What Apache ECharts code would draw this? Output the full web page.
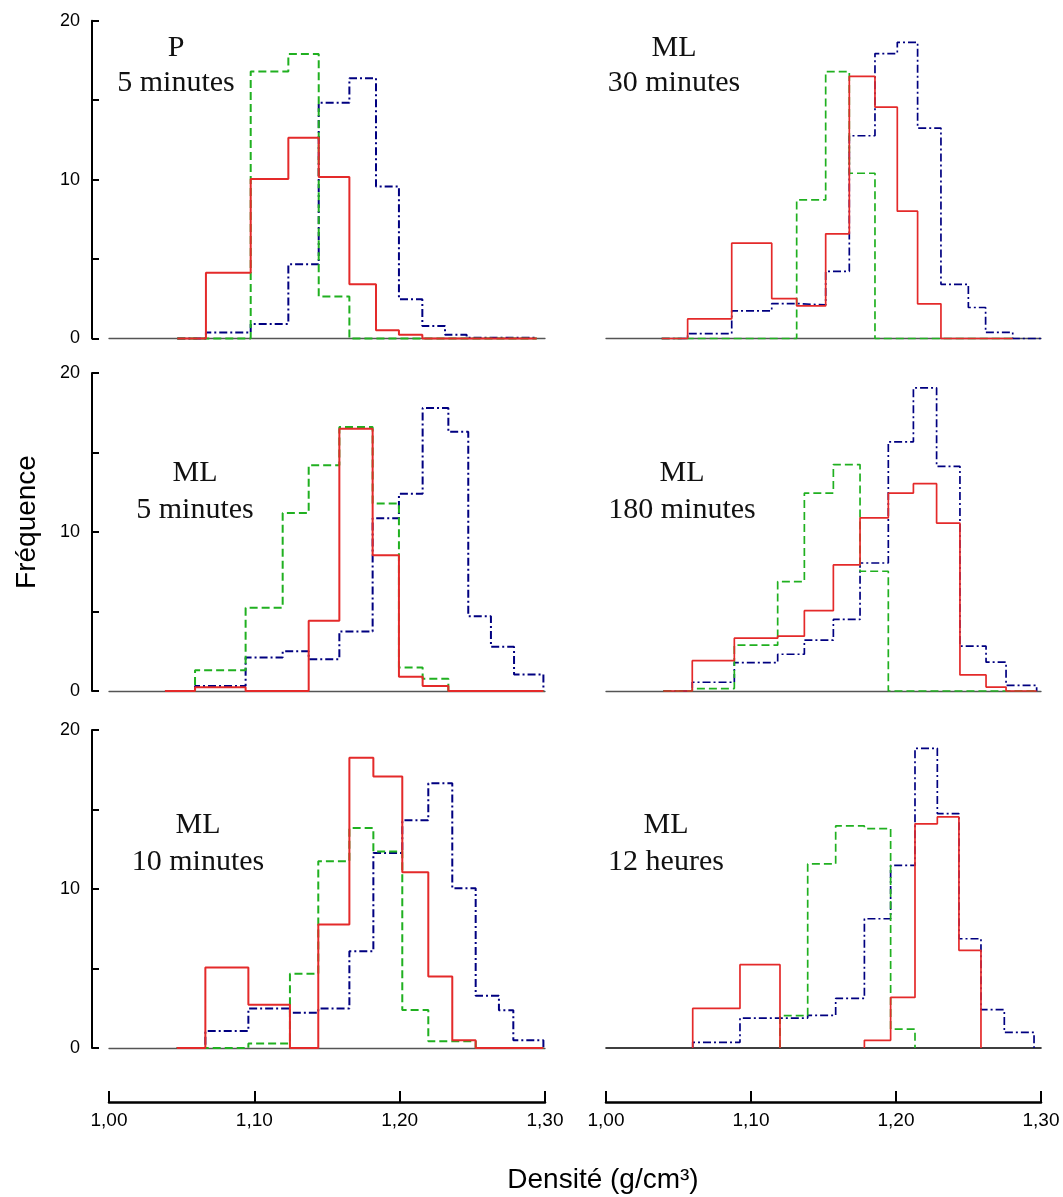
<!DOCTYPE html>
<html>
<head>
<meta charset="utf-8">
<script src="https://cdn.jsdelivr.net/npm/echarts@6/dist/echarts.min.js"></script>
<style>
html,body{margin:0;padding:0;background:#fff;}
#chart{width:1063px;height:1197px;}
</style>
</head>
<body>
<div id="chart"></div>
<script>
// ---- Data (density bin edges, frequencies) ----
// Panel: P 5 minutes
const edgesP5 = [1.047, 1.0667, 1.0975, 1.1234, 1.1443, 1.1654, 1.1837, 1.1995, 1.2156, 1.2312, 1.2461, 1.2943];
const redP5   = [0, 4.14, 10.04, 12.64, 10.17, 3.41, 0.52, 0.23, 0, 0, 0];
const greenP5 = [0, 0, 16.8, 17.9, 2.64, 0, 0, 0, 0, 0, 0];
const blueP5  = [0, 0.38, 0.92, 4.67, 14.83, 16.38, 9.56, 2.47, 0.79, 0.23, 0.05];

// Panel: ML 30 minutes
const edgesML30 = [1.0384, 1.0563, 1.0867, 1.1143, 1.1315, 1.1515, 1.1678, 1.1855, 1.2009, 1.2149, 1.2310, 1.2499, 1.2618, 1.2805, 1.3062];
const redML30   = [0, 1.23, 6.0, 2.51, 2.05, 6.59, 16.5, 14.56, 8.01, 2.18, 0, 0, 0, null];
const greenML30 = [0, 0, 0, 0, 8.72, 16.8, 10.4, 0, 0, 0, 0, 0, 0, null];
const blueML30  = [0, 0.31, 1.74, 2.2, 2.11, 4.23, 12.76, 17.93, 18.64, 13.24, 3.41, 1.95, 0.38, 0];

// Panel: ML 5 minutes
const edgesML5 = [1.0385, 1.0592, 1.094, 1.1195, 1.1374, 1.1585, 1.1814, 1.1995, 1.2158, 1.2335, 1.2472, 1.2628, 1.2787, 1.2989];
const redML5   = [0, 0.23, 0, 0, 4.42, 16.5, 8.53, 0.90, 0.31, 0, 0, 0, 0];
const greenML5 = [0, 1.31, 5.24, 11.2, 14.2, 16.6, 11.8, 1.48, 0.77, 0, 0, 0, 0];
const blueML5  = [0, 0.31, 2.1, 2.5, 2.0, 3.75, 10.87, 12.4, 17.8, 16.3, 4.7, 2.78, 1.04];

// Panel: ML 180 minutes
const edgesML180 = [1.0395, 1.0595, 1.0885, 1.1184, 1.1368, 1.1568, 1.1752, 1.1947, 1.2120, 1.2280, 1.2441, 1.2621, 1.2759, 1.2970];
const redML180   = [0, 1.91, 3.32, 3.45, 5.05, 7.93, 10.89, 12.45, 13.04, 10.56, 1.01, 0.25, 0];
const greenML180 = [0, 0.15, 2.88, 6.88, 12.45, 14.24, 7.53, 0, 0, 0, 0, 0, 0];
const blueML180  = [0, 0.55, 1.79, 2.31, 3.2, 4.5, 8.05, 15.67, 19.07, 14.13, 2.82, 1.81, 0.36];

// Panel: ML 10 minutes
const edgesML10 = [1.0466, 1.0663, 1.0959, 1.1245, 1.1440, 1.1654, 1.1819, 1.2018, 1.2197, 1.2362, 1.2523, 1.2683, 1.2782, 1.2989];
const redML10   = [0, 5.07, 2.72, 0, 7.77, 18.26, 17.07, 11.06, 4.5, 0.48, 0, 0, 0];
const greenML10 = [0, 0, 0.29, 4.67, 11.75, 13.84, 12.36, 2.39, 0.42, 0.42, 0, 0, 0];
const blueML10  = [0, 1.07, 2.49, 2.22, 2.49, 6.09, 12.27, 14.32, 16.65, 10.05, 3.29, 2.37, 0.48];

// Panel: ML 12 heures
const edgesML12h = [1.0598, 1.0924, 1.1200, 1.1391, 1.1584, 1.1782, 1.1963, 1.2131, 1.2285, 1.2434, 1.2586, 1.2747, 1.2952];
const redML12h   = [2.49, 5.24, null, null, null, 0.48, 3.18, 14.1, 14.53, 6.14, null, null];
const greenML12h = [null, null, 2.03, 11.58, 13.97, 13.8, 1.19, null, null, null, null, null];
const blueML12h  = [0.36, 1.88, 1.88, 2.05, 3.12, 8.13, 11.48, 18.85, 14.74, 6.87, 2.41, 0.98];

// Labels
const panelTitles = [["P", "5 minutes"], ["ML", "30 minutes"], ["ML", "5 minutes"], ["ML", "180 minutes"], ["ML", "10 minutes"], ["ML", "12 heures"]];
const yTickLabels = [0, 10, 20];
const xTitle = "Densité (g/cm³)";
const yTitle = "Fréquence";

// ---- Build ----
const panels = [
  {edges: edgesP5, red: redP5, green: greenP5, blue: blueP5},
  {edges: edgesML30, red: redML30, green: greenML30, blue: blueML30},
  {edges: edgesML5, red: redML5, green: greenML5, blue: blueML5},
  {edges: edgesML180, red: redML180, green: greenML180, blue: blueML180},
  {edges: edgesML10, red: redML10, green: greenML10, blue: blueML10},
  {edges: edgesML12h, red: redML12h, green: greenML12h, blue: blueML12h}
];

function steps(edges, vals) {
  const pts = [];
  let open = false;
  for (let i = 0; i < vals.length; i++) {
    const v = vals[i];
    if (v === null) {
      if (open) { pts.push([edges[i], 0]); pts.push([edges[i], '-']); open = false; }
      continue;
    }
    if (!open) { pts.push([edges[i], 0]); open = true; }
    pts.push([edges[i], v]);
    pts.push([edges[i + 1], v]);
  }
  if (open) pts.push([edges[vals.length], 0]);
  return pts;
}

const colLeft = [109, 606];
const colWidth = [436, 435];
const rowTop = [20.7, 373, 730];
const rowHeight = [317.8, 318, 318];

const grids = [], xAxes = [], yAxes = [], series = [];
const SANS = "'Liberation Sans', Arial, Helvetica, sans-serif";
const SERIF = "'Liberation Serif', 'Times New Roman', serif";

for (let p = 0; p < 6; p++) {
  const c = p % 2, r = Math.floor(p / 2);
  grids.push({left: colLeft[c], top: rowTop[r], width: colWidth[c], height: rowHeight[r]});
  xAxes.push({
    gridIndex: p, type: 'value', min: 1.0, max: 1.3,
    axisLine: {show: true, onZero: true, lineStyle: {color: p === 5 ? '#000' : '#555', width: p === 5 ? 1.6 : 1.3}},
    axisTick: {show: false}, axisLabel: {show: false}, splitLine: {show: false}
  });
  yAxes.push({
    gridIndex: p, type: 'value', min: 0, max: 20, interval: 5,
    show: c === 0, offset: 17,
    axisLine: {show: true, lineStyle: {color: '#000', width: 2}},
    axisTick: {show: true, inside: true, length: 7, lineStyle: {color: '#000', width: 2}},
    axisLabel: {
      show: true, margin: 12, fontSize: 18, fontFamily: SANS, color: '#000',
      formatter: v => (yTickLabels.indexOf(v) >= 0 ? String(v) : '')
    },
    splitLine: {show: false}
  });
}
// Bottom detached density axes
[4, 5].forEach(g => {
  xAxes.push({
    gridIndex: g, type: 'value', min: 1.0, max: 1.3, interval: 0.1,
    position: 'bottom', offset: 54,
    axisLine: {show: true, onZero: false, lineStyle: {color: '#000', width: 2.5}},
    axisTick: {show: true, inside: true, length: 11, lineStyle: {color: '#000', width: 2}},
    axisLabel: {
      show: true, margin: 9, fontSize: 19, fontFamily: SANS, color: '#000',
      formatter: v => v.toFixed(2).replace('.', ',')
    },
    splitLine: {show: false}
  });
});

const styles = {
  blue: {color: '#000080', type: [8, 3, 2, 3]},
  green: {color: '#20b020', type: [8, 4]},
  red: {color: '#e42a2a', type: 'solid'}
};

for (let p = 0; p < 6; p++) {
  const c = p % 2;
  ['blue', 'green', 'red'].forEach(k => {
    series.push({
      type: 'line', xAxisIndex: p, yAxisIndex: p,
      data: steps(panels[p].edges, panels[p][k]),
      showSymbol: false, symbol: 'none', clip: false, silent: true,
      connectNulls: false, animation: false,
      lineStyle: {color: styles[k].color, type: styles[k].type, width: c === 0 ? 2 : 1.7}
    });
  });
}

const titlePos = [[176, 48, 83], [674, 48, 83], [195, 473, 510], [682, 473, 510], [198, 825, 862], [666, 825, 862]];
const graphics = [];
panelTitles.forEach((t, i) => {
  const [x, y1, y2] = titlePos[i];
  graphics.push({type: 'text', x: x, y: y1, style: {text: t[0], font: "30px " + SERIF, fill: '#111', textAlign: 'center', textVerticalAlign: 'middle'}});
  graphics.push({type: 'text', x: x, y: y2, style: {text: t[1], font: "30px " + SERIF, fill: '#111', textAlign: 'center', textVerticalAlign: 'middle'}});
});
graphics.push({type: 'text', x: 603, y: 1180, style: {text: xTitle, font: "28px " + SANS, fill: '#000', textAlign: 'center', textVerticalAlign: 'middle'}});
graphics.push({type: 'text', x: 27, y: 522, rotation: Math.PI / 2, style: {text: yTitle, font: "28px " + SANS, fill: '#000', textAlign: 'center', textVerticalAlign: 'middle'}});

const chart = echarts.init(document.getElementById('chart'), null, {renderer: 'canvas'});
chart.setOption({
  backgroundColor: '#fff',
  animation: false,
  grid: grids,
  xAxis: xAxes,
  yAxis: yAxes,
  series: series,
  graphic: graphics
});
</script>
</body>
</html>
